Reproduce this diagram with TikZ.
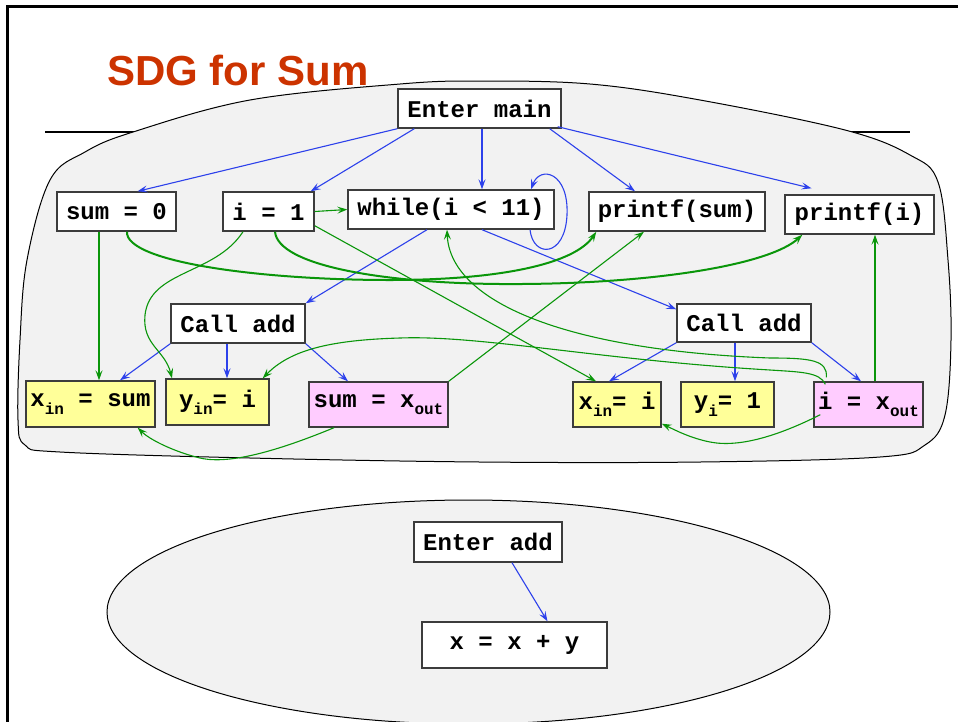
\documentclass[tikz,border=0pt]{standalone}
\usepackage{fontspec}
\setmainfont{Liberation Sans}
\setmonofont{Liberation Mono}
\usetikzlibrary{arrows.meta,calc}
\definecolor{ctrl}{RGB}{45,65,235}
\definecolor{dat}{RGB}{10,150,10}
\definecolor{titlered}{RGB}{204,51,0}
\definecolor{blobfill}{RGB}{242,242,242}
\definecolor{inbox}{RGB}{255,255,153}
\definecolor{outbox}{RGB}{255,204,255}
\definecolor{rim}{RGB}{60,60,60}
\newcommand\subtt[1]{\raisebox{-0.3em}{\fontsize{16}{16}\selectfont #1}}
\begin{document}
\begin{tikzpicture}[x=1pt,y=-1pt,
  stmt/.style={draw=rim, line width=1.4pt, fill=white, inner sep=0pt,
    font=\ttfamily\bfseries\fontsize{24}{24}\selectfont},
  actin/.style={stmt, fill=inbox},
  actout/.style={stmt, fill=outbox},
  tip/.style={-{Stealth[length=10pt,width=7pt,inset=4pt]}},
  cedge/.style={tip, draw=ctrl, line width=1.1pt},
  dedge/.style={tip, draw=dat, line width=1.1pt},
  dthick/.style={dedge, line width=2pt},
  region/.style={draw=black, line width=1pt, fill=blobfill}]
\useasboundingbox (0,0) rectangle (958,721);

% page frame and title rule
\draw[line width=3pt] (7,722) -- (7,6) -- (959,6);
\draw[line width=2pt] (45,132) -- (910,132);
\node[anchor=base west, inner sep=0pt, text=titlered,
      font=\bfseries\fontsize{42}{42}\selectfont] (title) at (107,85) {SDG for Sum};

% procedure regions
\draw[region] plot[smooth cycle, tension=0.6] coordinates {
  (18,420) (20,340) (27,260) (50,180) (85,152) (133,132) (250,100) (400,84)
  (480,81) (590,84) (700,100) (845,130) (910,155) (938,182) (948,260)
  (951,340) (945,415) (925,445) (880,457) (700,462) (480,462) (250,458)
  (60,452) (25,445)};
\draw[region] (468.5,612) ellipse [x radius=361.5pt, y radius=112pt];

% main
\node[stmt, minimum width=163pt, minimum height=39pt] (enter) at (479.5,108.5) {Enter main};
\node[stmt, minimum width=119pt, minimum height=39pt] (sum0) at (116.5,211.5) {sum = 0};
\node[stmt, minimum width=91pt, minimum height=39pt] (i1) at (268.5,211.5) {i = 1};
\node[stmt, minimum width=206pt, minimum height=39pt] (while) at (451,209.5) {while(i < 11)};
\node[stmt, minimum width=176pt, minimum height=39pt] (psum) at (677,211.5) {printf(sum)};
\node[stmt, minimum width=149pt, minimum height=39pt] (pi) at (859.5,214.5) {printf(i)};
\node[stmt, minimum width=134pt, minimum height=39pt] (cadd1) at (238,323.5) {Call add};
\node[stmt, minimum width=134pt, minimum height=38pt] (cadd2) at (744,323) {Call add};
\node[actin, minimum width=129pt, minimum height=46pt] (xsum) at (90.5,404) {x\subtt{in} = sum};
\node[actin, minimum width=103pt, minimum height=46pt] (yin1) at (217.5,402) {y\subtt{in}= i};
\node[actout, minimum width=139pt, minimum height=45pt] (sumout) at (378.5,404.5) {sum = x\subtt{out}};
\node[actin, minimum width=88pt, minimum height=45pt] (xin2) at (617,404.5) {x\subtt{in}= i};
\node[actin, minimum width=93pt, minimum height=45pt] (yi2) at (727.5,404.5) {y\subtt{i}= 1};
\node[actout, minimum width=109pt, minimum height=45pt] (iout) at (868.5,404.5) {i = x\subtt{out}};

% add
\node[stmt, minimum width=148pt, minimum height=40pt] (eadd) at (488,542) {Enter add};
\node[stmt, minimum width=185pt, minimum height=46pt] (xxy) at (514.5,645) {x = x + y};

% control dependences
\draw[cedge] (enter.south west) -- ([xshift=21pt]sum0.north);
\draw[cedge] ([xshift=17pt]enter.south west) -- ([xshift=-4pt]i1.north east);
\draw[cedge] ([xshift=2.5pt]enter.south) -- ([xshift=31pt]while.north);
\draw[cedge] ([xshift=-12pt]enter.south east) -- ([xshift=-42pt]psum.north);
\draw[cedge] ([xshift=-4pt,yshift=2pt]enter.south east) -- ([xshift=-48pt,yshift=6pt]pi.north);
\draw[cedge] ([xshift=79pt]while.south) .. controls (533,258) and (565,258) .. (567,215)
  .. controls (569,172) and (540,165) .. ([xshift=80pt]while.north);
\draw[cedge] ([xshift=-24pt]while.south) -- (cadd1.north east);
\draw[cedge] ([xshift=31pt]while.south) -- ([yshift=-6pt]cadd2.north west);
\draw[cedge] (cadd1.south west) -- ([xshift=29.5pt]xsum.north);
\draw[cedge] ([xshift=-11pt]cadd1.south) -- ([xshift=9.5pt]yin1.north);
\draw[cedge] (cadd1.south east) -- ([xshift=-30.5pt]sumout.north);
\draw[cedge] (cadd2.south west) -- ([xshift=-8pt]xin2.north);
\draw[cedge] ([xshift=-9pt]cadd2.south) -- ([xshift=7.5pt]yi2.north);
\draw[cedge] (cadd2.south east) -- ([xshift=-7.5pt]iout.north);
\draw[cedge] ([xshift=24pt]eadd.south) -- ([xshift=33pt]xxy.north);

% data dependences
\draw[dedge] (i1.east) -- (while.west);
\draw[dedge] ([xshift=-17.5pt]sum0.south) -- ([xshift=8.5pt]xsum.north);
\draw[dthick] ([xshift=10.5pt]sum0.south) .. controls (125,262) and (260,280) .. (390,280)
  .. controls (500,280) and (575,264) .. ([xshift=8pt]psum.south west);
\draw[dthick] ([xshift=6.5pt]i1.south) .. controls (278,265) and (380,283) .. (500,284)
  .. controls (650,285) and (770,265) .. ([xshift=18pt]pi.south west);
\draw[dedge] ([xshift=-25.5pt]i1.south) .. controls (215,275) and (150,270) .. (145,315)
  .. controls (142,345) and (165,350) .. ([xshift=-45.5pt]yin1.north);
\draw[dedge] ([yshift=6pt]i1.south east) -- ([xshift=-21pt]xin2.north);
\draw[dedge] (sumout.north east) -- ([xshift=-33pt]psum.south);
\draw[dedge] ([xshift=13pt,yshift=4pt]iout.north west) .. controls (828,360) and (810,358) .. (770,358)
  .. controls (560,350) and (450,300) .. ([xshift=-4pt]while.south);
\draw[dedge] ([xshift=12pt,yshift=-3pt]iout.north west) .. controls (820,372) and (800,372) .. (770,370)
  .. controls (600,360) and (480,335) .. (400,338)
  .. controls (330,340) and (290,350) .. ([xshift=-7pt]yin1.north east);
\draw[dedge] ([xshift=-44.5pt]sumout.south) .. controls (280,450) and (230,465) .. (200,458)
  .. controls (175,452) and (150,440) .. ([xshift=-18pt]xsum.south east);
\draw[dedge] ([xshift=7pt,yshift=13pt]iout.south west) .. controls (780,435) and (740,448) .. (710,442)
  .. controls (690,438) and (675,430) .. ([yshift=4pt]xin2.south east);
\draw[dedge] ([xshift=6.5pt]iout.north) -- ([xshift=15.5pt]pi.south);
\end{tikzpicture}
\end{document}
